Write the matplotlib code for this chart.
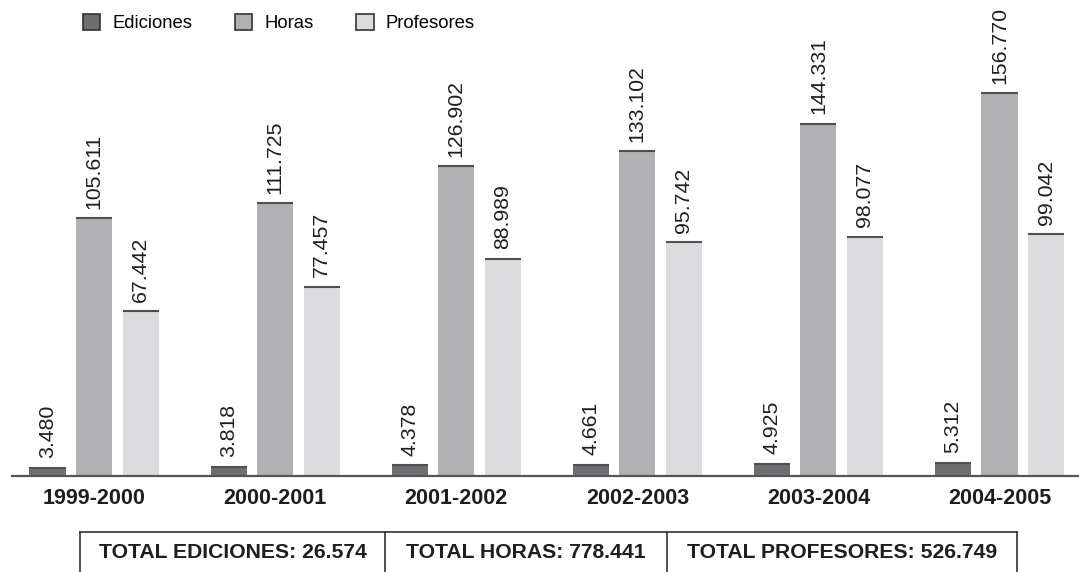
import matplotlib.pyplot as plt
from matplotlib.patches import Patch
from matplotlib.lines import Line2D

plt.rcParams['font.family'] = ['Liberation Sans', 'DejaVu Sans']

# data
cursos = ['1999-2000', '2000-2001', '2001-2002', '2002-2003', '2003-2004', '2004-2005']
ediciones = [3480, 3818, 4378, 4661, 4925, 5312]
horas = [105611, 111725, 126902, 133102, 144331, 156770]
profesores = [67442, 77457, 88989, 95742, 98077, 99042]

series = [
    ('Ediciones', ediciones, '#6e6e71'),
    ('Horas', horas, '#b1b1b4'),
    ('Profesores', profesores, '#dcdcde'),
]


def fmt(v):
    return f"{v:,}".replace(",", ".")


W, H = 1079, 572
fig = plt.figure(figsize=(W / 100, H / 100), dpi=100)
ax = fig.add_axes([12 / W, 96 / H, (W - 12) / W, 476 / H])

x = list(range(len(cursos)))
width = 0.199
offset = 0.257

for i, (name, vals, color) in enumerate(series):
    pos = [xi + (i - 1) * offset for xi in x]
    ax.bar(pos, vals, width=width, color=color, edgecolor='none', zorder=2)
    # darker line on top of every bar
    ax.hlines(vals, [p - width / 2 for p in pos], [p + width / 2 for p in pos],
              colors='#505050', linewidth=1.5, zorder=3)
    for p, v in zip(pos, vals):
        ax.annotate(fmt(v), (p, v), xytext=(0, 7), textcoords='offset points',
                    rotation=90, ha='center', va='bottom', fontsize=15.3,
                    color='#1e1e1e')

ax.set_xlim(-0.453, 5.439)
ax.set_ylim(0, 195080)
for s in ['top', 'right', 'left']:
    ax.spines[s].set_visible(False)
ax.spines['bottom'].set_color('#555555')
ax.spines['bottom'].set_linewidth(1.6)
ax.set_yticks([])
ax.set_xticks(x)
ax.set_xticklabels(cursos, fontsize=15.5, fontweight='bold', color='#1e1e1e')
ax.tick_params(axis='x', length=0, pad=9)

# legend
handles = [Patch(facecolor=c, edgecolor='#333333', linewidth=1.2, label=n)
           for n, _, c in series]
fig.legend(handles=handles, loc='upper left', bbox_to_anchor=(66 / W, 1 + 3 / H),
           ncol=3, frameon=False, fontsize=13.3, handlelength=0.95,
           handleheight=0.95, handletextpad=0.65, columnspacing=2.3)

# totals box at the bottom
totals = [('TOTAL EDICIONES', sum(ediciones)),
          ('TOTAL HORAS', sum(horas)),
          ('TOTAL PROFESORES', sum(profesores))]
edges = [80, 385, 667, 1017]
top = 532
fig.add_artist(Line2D([edges[0] / W, edges[-1] / W], [1 - top / H, 1 - top / H],
                      color='#333333', linewidth=1.2))
for e in edges:
    fig.add_artist(Line2D([e / W, e / W], [1 - top / H, -0.05],
                          color='#333333', linewidth=1.2))
for (label, total), l, r in zip(totals, edges[:-1], edges[1:]):
    fig.text((l + r) / 2 / W, 1 - 553 / H, f"{label}: {fmt(total)}",
             ha='center', va='center', fontsize=15.2, fontweight='bold',
             color='#1e1e1e')

fig.savefig('out.png', dpi=100)
